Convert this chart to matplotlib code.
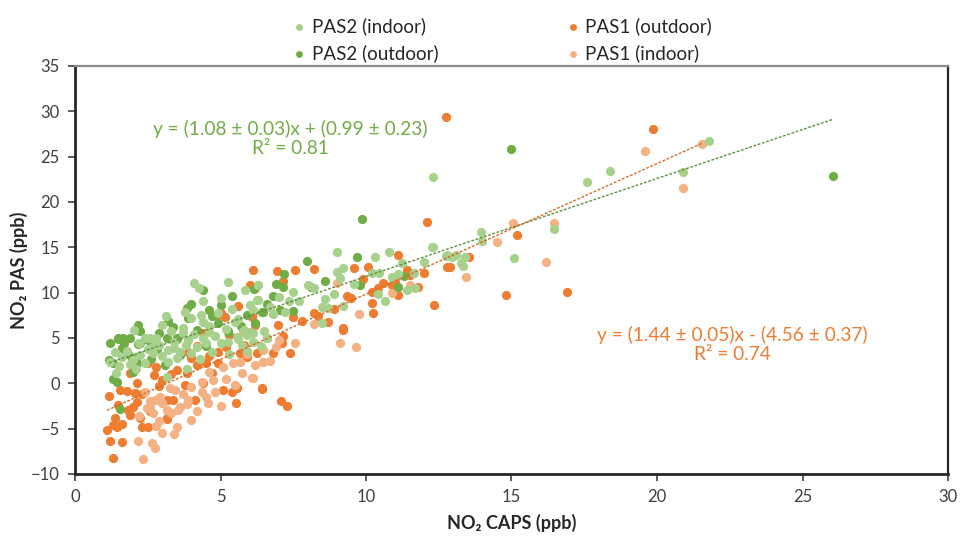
import matplotlib
matplotlib.use("Agg")
import matplotlib.pyplot as plt
import numpy as np

plt.rcParams['font.family'] = ['Lato', 'DejaVu Sans']

# ---- data (NO2 CAPS vs NO2 PAS, ppb) ----
pas2_in_x = [1.37, 2.58, 2.23, 2.4, 2.68, 3.2, 3.6, 3.2, 3.7, 4.1, 4.0, 4.5, 5.0, 3.85, 3.16, 5.55, 5.75, 6.1, 6.0, 2.1,
             4.1, 5.25, 4.27, 5.0, 4.4, 3.13, 5.85, 6.3, 6.3, 6.0, 5.4, 3.78, 4.33, 4.4, 2.03, 2.4, 2.8, 3.7, 3.9, 4.6,
             5.5, 5.8, 6.1, 5.9, 5.25,
             9.0, 10.3, 10.8, 12.27, 12.8, 9.0, 9.2, 9.1, 10.2, 10.45, 11.1, 11.25, 11.65, 8.2, 10.4, 10.65, 11.7, 8.6,
             8.5, 8.7, 7.7, 7.35, 9.2, 8.5, 6.3, 6.25, 6.8, 6.5, 6.1,
             12.3, 13.95, 14.0, 12.75, 12.95, 13.25, 13.35, 13.4, 15.1, 16.45, 12.3, 17.6, 18.4, 20.9, 21.8,
             2.9, 3.4, 3.0, 3.5, 4.2, 4.8, 5.2, 4.6, 3.3, 2.7, 1.8, 1.6, 4.0, 4.9, 5.6, 6.7, 7.0, 7.5, 8.0, 3.0,
             2.2, 1.5, 1.9, 4.3, 4.7, 5.3, 5.9, 6.4, 6.6, 3.8, 2.5, 4.4, 5.6, 3.4, 2.0, 1.4, 1.2, 9.6, 10.9, 11.4,
             12.0, 13.1, 7.2, 8.9]
pas2_in_y = [3.5, 5.0, 3.1, 2.25, 3.35, 3.7, 3.5, 2.4, 5.55, 5.45, 3.35, 4.45, 4.45, 1.6, 0.7, 5.1, 4.25, 4.6, 5.7, 1.6,
             11.1, 11.2, 10.5, 9.4, 9.1, 7.4, 10.3, 10.85, 9.2, 8.65, 8.2, 7.9, 7.55, 6.8, 5.9, 5.0, 5.0, 6.1, 4.8, 5.7,
             6.8, 5.9, 8.1, 5.35, 4.6,
             14.5, 13.9, 14.5, 15.0, 14.2, 12.3, 12.7, 11.6, 12.2, 12.2, 12.1, 13.3, 12.2, 10.5, 9.85, 9.1, 10.5, 9.3,
             8.4, 8.3, 9.1, 9.1, 8.5, 6.7, 10.85, 9.2, 7.65, 5.8, 5.55,
             15.0, 16.7, 15.7, 14.05, 13.95, 13.3, 12.95, 13.95, 13.8, 17.0, 22.75, 22.2, 23.4, 23.3, 26.75,
             4.2, 4.6, 3.0, 2.8, 4.0, 5.2, 6.0, 6.3, 5.8, 4.1, 3.6, 2.9, 7.2, 7.8, 7.1, 8.4, 9.5, 10.1, 10.8, 6.4,
             4.5, 1.9, 2.1, 2.7, 3.5, 3.2, 3.6, 4.1, 5.0, 4.2, 3.8, 5.0, 4.9, 3.9, 2.6, 1.1, 2.4, 11.0, 11.7, 10.3,
             13.4, 14.1, 7.9, 9.8]

pas2_out_x = [1.17, 1.3, 1.48, 1.82, 2.16, 1.96, 2.13, 1.3, 1.44, 1.55, 1.9, 3.16, 3.5, 5.25, 2.23, 2.82,
              4.4, 4.0, 3.85, 3.9, 5.4, 4.6, 3.37, 2.15, 1.48, 1.65, 3.5, 4.9, 6.46, 5.25, 2.23,
              9.69, 7.97, 7.18, 7.15, 8.1, 9.8, 11.1, 6.8, 6.15, 6.6, 6.43, 7.04, 7.5, 6.2, 11.3,
              15.0, 26.05, 9.86,
              1.2, 1.6, 2.5, 2.9, 3.2, 4.2, 4.7, 5.7, 5.9, 6.9, 8.6, 2.0, 1.7, 3.6, 4.5, 2.6, 5.0, 3.1]
pas2_out_y = [2.6, 2.25, 4.9, 3.25, 4.35, 2.8, 2.25, 0.5, 0.15, -2.8, 5.0, 5.0, 4.9, 5.8, 5.8, 3.8,
              10.3, 8.75, 8.3, 7.2, 9.6, 8.1, 6.25, 6.4, 5.0, 5.0, 5.0, 6.65, 7.9, 5.7, 4.45,
              13.95, 13.5, 12.07, 10.6, 10.6, 10.85, 10.6, 9.6, 10.4, 8.75, 7.9, 8.1, 8.0, 6.66, 11.85,
              25.85, 22.9, 18.1,
              4.4, 3.9, 4.8, 5.6, 6.9, 5.9, 7.4, 6.3, 7.5, 11.0, 11.3, 1.3, 4.4, 3.1, 4.1, 2.7, 8.6, 2.0]

pas1_out_x = [12.1, 11.1, 8.2, 7.56, 6.94, 6.1, 9.6, 10.07, 7.15, 9.9, 10.6, 11.0, 11.4, 11.5, 12.0, 10.2, 10.4, 11.1,
              12.8, 9.35, 9.5, 10.2, 10.25, 12.35, 8.2, 8.35, 8.7, 9.2, 6.97, 7.15, 6.1,
              9.2, 7.4, 7.1, 6.43, 7.07, 7.3, 6.25,
              12.9, 13.55, 15.2, 14.8, 16.9, 12.75, 19.85,
              6.0, 6.2, 5.6, 4.9, 5.15, 5.0, 6.08, 6.2, 4.2,
              1.17, 1.55, 1.9, 2.13, 2.06, 2.13, 1.8, 1.48, 1.82, 1.37, 1.3, 1.1, 1.2, 1.6, 1.44, 1.6, 1.3, 2.23, 3.16,
              2.58, 2.3, 2.5, 3.5, 3.78, 3.85, 4.2, 4.12, 4.4, 4.5, 4.9, 5.2, 5.67, 5.1, 5.4, 5.55, 5.53, 6.43, 3.16,
              3.37, 3.16, 2.5, 2.8, 4.9,
              2.7, 3.0, 3.3, 4.0, 4.6, 5.8, 6.6, 7.8, 8.9, 5.3, 4.4, 3.9, 2.3, 2.9, 5.9, 6.8, 4.7, 7.5, 10.9, 11.8,
              1.9, 2.0]
pas1_out_y = [17.8, 14.2, 12.6, 12.5, 12.4, 12.5, 12.7, 12.8, 11.3, 11.5, 11.1, 11.2, 12.5, 11.95, 12.2, 10.1, 10.5, 9.75,
              12.8, 9.6, 9.4, 8.9, 7.8, 8.65, 7.8, 7.45, 6.8, 6.1, 6.4, 5.2, 7.9,
              5.9, 3.35, 4.45, -0.6, -1.9, -2.5, 3.35,
              12.85, 13.95, 16.4, 9.75, 10.1, 29.4, 28.05,
              10.85, 10.5, 8.5, 7.5, 7.3, 7.75, 7.3, 6.4, 4.1,
              -1.4, -0.7, 1.15, 0.05, -1.05, -2.05, -0.85, -2.4, -2.95, -3.8, -4.6, -5.1, -6.35, -6.45, -4.8, -4.5, -8.2,
              -3.8, -3.8, -3.1, -4.8, -4.8, 1.5, -0.2, 1.15, 2.05, -1.8, 0.05, 2.25, 3.5, 4.0, 3.35, -0.7, -0.95, -0.5,
              -2.15, -0.5, -1.8, -1.8, -3.9, 2.25, 1.8, 2.25,
              0.9, 0.4, 1.0, 2.8, 3.0, 4.2, 5.0, 6.9, 8.2, 5.3, 5.6, 3.5, -1.2, -0.3, 2.9, 3.3, 1.1, 7.3, 10.9, 10.6,
              -3.5, -2.6]

pas1_in_x = [9.0, 10.9, 11.5, 9.75, 7.0, 7.56, 9.1, 9.65, 6.45, 6.45, 6.7, 6.1,
             15.05, 14.5, 13.45, 16.2, 16.45, 19.6, 20.9, 21.55,
             2.16, 2.65, 2.75, 2.34, 3.0, 3.5, 2.58, 2.58, 2.75, 2.92, 3.16, 3.6, 3.85, 3.26, 3.44, 4.36, 4.36, 4.74,
             4.57, 4.5, 5.1, 5.43, 5.74, 6.08, 5.67, 6.46, 5.77, 2.47, 2.68, 3.54,
             2.2, 2.9, 3.3, 3.7, 4.0, 4.2, 4.8, 5.2, 5.5, 3.0, 3.9, 2.4, 4.6, 5.9, 6.2, 3.4, 2.8, 4.0, 6.9, 8.2, 5.0]
pas1_in_y = [11.1, 10.0, 10.85, 7.65, 4.8, 4.45, 4.45, 4.0, 3.7, 2.4, 2.5, 0.6,
             17.7, 15.6, 11.75, 13.4, 17.7, 25.6, 21.5, 26.4,
             -6.35, -6.6, -7.1, -8.3, -5.45, -4.8, -1.95, -2.6, -1.8, -1.5, -2.95, -2.6, -2.25, -0.5, -0.7, 0.15, -0.95,
             0.4, -2.15, -1.5, 1.8, 2.25, 1.15, 0.6, 2.4, 2.4, 5.7, -2.7, -3.25, -2.95,
             -3.6, -4.1, -3.3, -1.2, -0.4, -3.0, -1.0, 0.5, -0.2, -2.2, -1.8, -1.0, 1.3, 3.2, 2.0, -5.6, -4.7, -4.0,
             4.0, 6.5, -2.5]

# linear fits (slope, intercept) for each instrument
pas2_fit = (1.08, 0.99)
pas1_fit = (1.44, -4.56)

x_ticks = [0, 5, 10, 15, 20, 25, 30]
y_ticks = [-10, -5, 0, 5, 10, 15, 20, 25, 30, 35]

C_PAS2_IN = '#A9D18E'
C_PAS2_OUT = '#70AD47'
C_PAS1_OUT = '#ED7D31'
C_PAS1_IN = '#F4B183'

fig = plt.figure(figsize=(9.6, 5.36), dpi=100)
ax = fig.add_axes([75 / 960, 62 / 536, 873 / 960, 408 / 536])

ms = 44
h_p1o = ax.scatter(pas1_out_x, pas1_out_y, s=ms, color=C_PAS1_OUT, linewidths=0, zorder=3)
h_p1i = ax.scatter(pas1_in_x, pas1_in_y, s=ms, color=C_PAS1_IN, linewidths=0, zorder=3)
h_p2o = ax.scatter(pas2_out_x, pas2_out_y, s=ms, color=C_PAS2_OUT, linewidths=0, zorder=3)
h_p2i = ax.scatter(pas2_in_x, pas2_in_y, s=ms, color=C_PAS2_IN, linewidths=0, zorder=3)

# trend lines over each instrument's data range
x2 = np.array([min(pas2_in_x + pas2_out_x), max(pas2_in_x + pas2_out_x)])
x1 = np.array([min(pas1_in_x + pas1_out_x), max(pas1_in_x + pas1_out_x)])
ax.plot(x2, pas2_fit[0] * x2 + pas2_fit[1], color='#5E8F3E', lw=1.0, ls=(0, (2, 1.2)), zorder=4)
ax.plot(x1, pas1_fit[0] * x1 + pas1_fit[1], color='#D86A25', lw=1.0, ls=(0, (2, 1.2)), zorder=4)

ax.text(7.4, 27.05, 'y = (1.08 ± 0.03)x + (0.99 ± 0.23)\nR² = 0.81', color=C_PAS2_OUT,
        ha='center', va='center', fontsize=13.8, linespacing=1.15, zorder=5)
ax.text(22.6, 4.25, 'y = (1.44 ± 0.05)x - (4.56 ± 0.37)\nR² = 0.74', color=C_PAS1_OUT,
        ha='center', va='center', fontsize=13.8, linespacing=1.15, zorder=5)

ax.set_xlim(0, 30)
ax.set_ylim(-10, 35)
ax.set_xticks(x_ticks)
ax.set_yticks(y_ticks)
ax.tick_params(axis='both', direction='out', length=5, width=1.2, color='#404040',
               labelsize=12, labelcolor='#404040', pad=6)

for side in ['left', 'bottom']:
    ax.spines[side].set_color('#262626')
    ax.spines[side].set_linewidth(2.0)
ax.spines['right'].set_color('#262626')
ax.spines['right'].set_linewidth(1.6)
ax.spines['top'].set_color('#8c8c8c')
ax.spines['top'].set_linewidth(1.6)

ax.set_xlabel('NO₂ CAPS (ppb)', fontsize=13, fontweight='bold', color='#262626', labelpad=6)
ax.set_ylabel('NO₂ PAS (ppb)', fontsize=13, fontweight='bold', color='#262626', labelpad=2)

fig.legend([h_p2i, h_p2o, h_p1o, h_p1i],
           ['PAS2 (indoor)', 'PAS2 (outdoor)', 'PAS1 (outdoor)', 'PAS1 (indoor)'],
           ncol=2, loc='upper center', bbox_to_anchor=(0.522, 1.0), frameon=False,
           fontsize=13.5, markerscale=0.75, handletextpad=0.15, columnspacing=6.7,
           labelspacing=0.5, handlelength=1.0, labelcolor='#262626')

fig.savefig('out.png', dpi=100)
